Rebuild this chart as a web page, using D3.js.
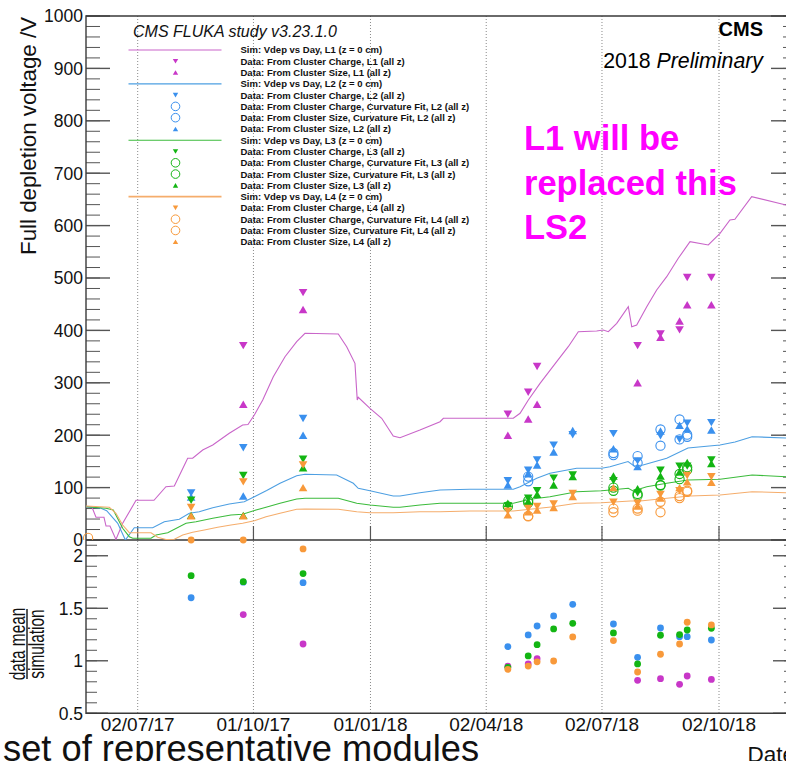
<!DOCTYPE html>
<html>
<head>
<meta charset="utf-8">
<script src="https://cdn.jsdelivr.net/npm/d3@7"></script>
<style>
  html, body { margin: 0; padding: 0; background: #fff; }
  svg { display: block; }
  text { font-family: "Liberation Sans", Arial, Helvetica, sans-serif; }
</style>
</head>
<body>
<svg id="chart" width="786" height="761"></svg>
<script>
// ---------------------------------------------------------------------------
// Simulated full depletion voltage: [days since 2017-07-02, volts]
// ---------------------------------------------------------------------------
const simStart = "2017-07-02";

const simL1 = [[-40.6,63],[-35.9,62.4],[-32.8,43.3],[-26.5,43.3],[-24.9,26.7],[-21.8,26.7],[-17.1,1],[-11.8,31.9],
  [-1.3,75.8],[12.8,75.8],[22.2,101.7],[28.8,103],[39.3,156],[43.2,156],[51.1,171.8],[59,181.3],[72,203.6],
  [82.5,219.5],[86.7,220.4],[91.7,238.5],[98.3,267],[106.6,311.6],[115.8,349.8],[125,378.4],[131.5,394.5],
  [157.7,393.1],[164.3,368.9],[170.8,337.2],[172.6,267.2],[173.4,272.3],[182.6,251.3],[191.8,232.3],
  [200.9,198.5],[206.2,195.2],[221.9,209.9],[237.7,225.8],[240.3,232.3],[295.3,232.3],[300.6,241.8],
  [307.1,267.2],[316.3,299],[329.4,340.3],[338.5,368.9],[346.4,397.5],[360.8,398.9],[366,400.8],[370,397.5],
  [376.6,413.5],[385.7,445.2],[388.4,407],[392.3,410.3],[400.2,445.2],[408,477.1],[415.9,502.5],[425,537.6],
  [434.2,569.3],[448.6,563],[457.8,585.3],[465.6,610.7],[469.5,612],[482.7,655.2],[509.7,639.3],[516.7,635.6]];

const simL2 = [[-40.6,63.5],[-28.9,60.5],[-24.4,55.9],[-15.7,31.9],[-9.7,0],[-2.7,23.5],[11.8,23.5],[20.9,34.9],
  [32.7,39.5],[40.6,51],[48.4,54],[59,61.6],[72,68.7],[83.8,73.1],[91.7,82.6],[101.4,94.5],[111.9,108.2],
  [125,122.7],[131.5,125.4],[156.4,124],[169.5,108.2],[173.4,98.7],[182.6,94.1],[200.9,84],[206.2,84],
  [221.9,90.3],[237.7,95.4],[261.2,96.8],[295.3,96.8],[300.6,101.7],[313.7,117.7],[324.1,127.3],[345.1,136.8],
  [364.8,136.8],[371.3,139.9],[385.5,149.8],[390.2,141.2],[397.3,143.1],[415.9,155.9],[432.6,175.6],
  [457.8,181.3],[469.6,187],[483,197.1],[509.7,194.7],[516.7,194.7]];

const simL3 = [[-40.6,63.5],[-24.9,60.5],[-19.2,57.3],[-11.8,22.3],[-6.6,6.3],[-3.9,3.2],[10.5,3.2],[14.4,9.5],
  [23.6,13.9],[38,31.9],[45.8,34.9],[59,41.4],[73.3,47.7],[82.5,49],[93,57.3],[100.9,62.4],[111.9,70],
  [125,78.2],[131.5,79.6],[157.7,79.6],[172.2,70],[182.6,66.8],[200.9,62.4],[206.2,62.4],[221.9,66.8],
  [237.7,70],[261.2,70],[295.3,70],[308.4,77.7],[324.1,82.6],[345.1,92.2],[364.8,94.1],[371.3,95.4],
  [385.7,98.7],[389.4,93.5],[400.2,101.7],[415.9,108.2],[432.6,114.5],[457.8,115.8],[483,124],
  [509.7,120.8],[516.7,120.2]];

const simL4 = [[-40.6,64.9],[-22.3,62.4],[-17.1,51],[-11.8,28.6],[-6.6,13.9],[10.5,13.9],[15.7,5.2],[22.2,1],
  [28.8,1.3],[35.4,9.5],[43.2,14.7],[52.4,19.1],[62.9,24.2],[73.3,28.6],[82.5,31.9],[91.7,36.8],[100.9,44.5],
  [111.9,51],[125,58.6],[131.5,59.2],[157.7,58.6],[172.2,54],[182.6,52.1],[200.9,52.1],[221.9,54],[237.7,54],
  [261.2,55.3],[295.3,55.3],[308.4,58.6],[326.7,63.5],[345.1,70],[364.8,71.2],[387.3,74.4],[395.1,74.4],
  [415.9,79.6],[434.2,84],[457.8,85.9],[483,92.2],[509.7,90.3],[516.7,89.7]];

// ---------------------------------------------------------------------------
// Measured full depletion voltage (V), one entry per measurement date
// ---------------------------------------------------------------------------
const measDates = ["2017-05-24","2017-08-13","2017-09-23","2017-11-09","2018-04-19","2018-05-05","2018-05-12",
  "2018-05-25","2018-06-09","2018-07-11","2018-07-30","2018-08-17","2018-09-01","2018-09-07","2018-09-26"];

const l1Charge     = [null,null,371,472,240,282,331,null,null,null,371,393,401,501,501];
const l1Size       = [null,null,259,440,200,231,259,null,null,null,300,387,418,449,449];

const l2Charge     = [null,90,176,232,113,133,153,181,201,203,151,199,192,223,224];
const l2ChargeCurv = [null,null,null,null,null,121,null,null,null,166,160,211,230,201,null];
const l2SizeCurv   = [null,null,null,null,null,112,null,null,null,162,147,180,192,197,null];
const l2Size       = [null,82,84,200,105,127,143,168,209,174,140,208,219,212,210];

const l3Charge     = [null,76,123,154,65,80,94,118,124,113,90,133,141,141,153];
const l3ChargeCurv = [null,null,null,null,64,75,null,null,null,100,88,105,126,139,null];
const l3SizeCurv   = [null,null,null,null,null,71,null,null,null,94,85,104,116,134,null];
const l3Size       = [null,47,47,138,70,74,87,105,121,122,98,122,130,148,146];

const l4Charge     = [null,62,111,143,55,60,64,69,89,72,70,87,94,123,121];
const l4ChargeCurv = [4,null,null,null,null,46,null,null,null,60,60,73,84,94,null];
const l4SizeCurv   = [null,null,null,null,null,45,null,null,null,53,56,53,80,92,null];
const l4Size       = [null,46,46,100,48,54,57,62,83,100,65,80,100,111,110];

// data mean / simulation
const ratioL1 = [null,null,1.44,1.16,0.948,0.97,1.02,null,null,null,0.814,0.83,0.776,0.855,0.823];
const ratioL2 = [null,1.60,1.748,1.744,1.135,1.246,1.331,1.427,1.538,1.35,1.033,1.312,1.23,1.23,1.198];
const ratioL3 = [null,1.81,1.753,1.83,0.938,1.046,1.153,1.303,1.357,1.265,0.97,1.243,1.25,1.293,1.31];
const ratioL4 = [null,2.79,2.39,2.065,0.919,0.95,0.99,0.998,1.227,1.192,0.893,1.062,1.16,1.367,1.341];

// axis ticks
const xTickDates = ["2017-07-02","2017-10-01","2018-01-01","2018-04-02","2018-07-02","2018-10-02"];
const yTicks = d3.range(0, 1001, 100);
const yMinor = d3.range(0, 1001, 20);
const rTicks = [0.5, 1, 1.5, 2];
const rMinor = d3.range(0.5, 2.151, 0.1);

// ---------------------------------------------------------------------------
const layers = [
  { name: "L1", color: "#c837c8", line: "#c965c9",
    charge: l1Charge, chargeCurv: null, sizeCurv: null, size: l1Size, sim: simL1, ratio: ratioL1 },
  { name: "L2", color: "#3a90ee", line: "#4d9fe2",
    charge: l2Charge, chargeCurv: l2ChargeCurv, sizeCurv: l2SizeCurv, size: l2Size, sim: simL2, ratio: ratioL2 },
  { name: "L3", color: "#13b513", line: "#3cbb3c",
    charge: l3Charge, chargeCurv: l3ChargeCurv, sizeCurv: l3SizeCurv, size: l3Size, sim: simL3, ratio: ratioL3 },
  { name: "L4", color: "#f8993a", line: "#f5ad6c",
    charge: l4Charge, chargeCurv: l4ChargeCurv, sizeCurv: l4SizeCurv, size: l4Size, sim: simL4, ratio: ratioL4 }
];

const parse = d3.utcParse("%Y-%m-%d");
const fmt = d3.utcFormat("%d/%m/%y");
const DAY = 864e5;
const t0 = parse(simStart).getTime();
const dayToDate = d => new Date(t0 + d * DAY);

// frame geometry
const L = 86, R = 795, T = 16, MID = 540, B = 713.3;

const x = d3.scaleUtc()
  .domain([parse("2017-07-02"), parse("2018-10-02")])
  .range([137.7, 719]);
const y = d3.scaleLinear().domain([0, 1000]).range([MID, T]);
const yr = d3.scaleLinear().domain([0.5, 2.15]).range([B, MID]).clamp(true);

const svg = d3.select("#chart");
const AXIS = "#3a3a3a";

const defs = svg.append("defs");
defs.append("clipPath").attr("id", "topPane")
  .append("rect").attr("x", L).attr("y", T).attr("width", R - L).attr("height", MID - T);
defs.append("clipPath").attr("id", "topPaneTall")
  .append("rect").attr("x", 0).attr("y", T).attr("width", R).attr("height", MID - T);

// vertical dotted grid
svg.append("g").selectAll("line").data(xTickDates).join("line")
  .attr("x1", d => x(parse(d))).attr("x2", d => x(parse(d)))
  .attr("y1", T).attr("y2", B)
  .attr("stroke", "#8a8a8a").attr("stroke-width", 1).attr("stroke-dasharray", "1,2");

// x tick marks on the lower edge of the upper pane
svg.append("g").selectAll("line").data(xTickDates).join("line")
  .attr("x1", d => x(parse(d))).attr("x2", d => x(parse(d)))
  .attr("y1", MID).attr("y2", MID - 14)
  .attr("stroke", "#555").attr("stroke-width", 1.2);

// y ticks (left and right), upper pane
const gy = svg.append("g").attr("stroke", "#555");
gy.selectAll(".mn").data(yMinor).join("line")
  .attr("x1", L).attr("x2", L + 14).attr("y1", d => y(d)).attr("y2", d => y(d)).attr("stroke-width", 1);
gy.selectAll(".mj").data(yTicks).join("line")
  .attr("x1", L).attr("x2", L + 24).attr("y1", d => y(d)).attr("y2", d => y(d)).attr("stroke-width", 1.4);
gy.selectAll(".rmn").data(yMinor).join("line")
  .attr("x1", R).attr("x2", R - 12).attr("y1", d => y(d)).attr("y2", d => y(d)).attr("stroke-width", 1);
gy.selectAll(".rmj").data(yTicks).join("line")
  .attr("x1", R).attr("x2", R - 24).attr("y1", d => y(d)).attr("y2", d => y(d)).attr("stroke-width", 1.4);

// y ticks, ratio pane
const gr = svg.append("g").attr("stroke", "#555");
gr.selectAll(".mn").data(rMinor).join("line")
  .attr("x1", L).attr("x2", L + 11).attr("y1", d => yr(d)).attr("y2", d => yr(d)).attr("stroke-width", 1);
gr.selectAll(".mj").data(rTicks).join("line")
  .attr("x1", L).attr("x2", L + 22).attr("y1", d => yr(d)).attr("y2", d => yr(d)).attr("stroke-width", 1.4);
gr.selectAll(".rmn").data(rMinor).join("line")
  .attr("x1", R).attr("x2", R - 11).attr("y1", d => yr(d)).attr("y2", d => yr(d)).attr("stroke-width", 1);
gr.selectAll(".rmj").data(rTicks).join("line")
  .attr("x1", R).attr("x2", R - 22).attr("y1", d => yr(d)).attr("y2", d => yr(d)).attr("stroke-width", 1.4);

// frames
svg.append("path")
  .attr("d", `M${L},${MID}V${T}H${R}M${L},${MID}H${R}M${L},${MID}V${B}H${R}`)
  .attr("fill", "none").attr("stroke", AXIS).attr("stroke-width", 1.4);

// tick labels
svg.append("g").selectAll("text").data(yTicks).join("text")
  .attr("x", 83).attr("y", d => y(d)).attr("dy", "0.36em")
  .attr("text-anchor", "end").attr("font-size", 17.5).attr("fill", "#111")
  .text(d => d);
svg.append("g").selectAll("text").data(rTicks).join("text")
  .attr("x", 83).attr("y", d => yr(d)).attr("dy", "0.36em")
  .attr("text-anchor", "end").attr("font-size", 17.5).attr("fill", "#111")
  .text(d => d);
svg.append("g").selectAll("text").data(xTickDates).join("text")
  .attr("x", d => x(parse(d))).attr("y", 731)
  .attr("text-anchor", "middle").attr("font-size", 19).attr("fill", "#111")
  .text(d => fmt(parse(d)));

// axis titles
svg.append("text")
  .attr("transform", "translate(35.5,17) rotate(-90)")
  .attr("text-anchor", "end").attr("font-size", 22.3).attr("fill", "#111")
  .text("Full depletion voltage /V");

const frac = svg.append("g").attr("transform", "translate(0,644) rotate(-90)");
frac.append("text").attr("transform", "translate(0,25) scale(0.7,1)")
  .attr("text-anchor", "middle").attr("font-size", 22).attr("fill", "#111").text("data mean");
frac.append("line").attr("x1", -35).attr("x2", 35).attr("y1", 27).attr("y2", 27)
  .attr("stroke", "#111").attr("stroke-width", 1.4);
frac.append("text").attr("transform", "translate(0,44) scale(0.7,1)")
  .attr("text-anchor", "middle").attr("font-size", 22).attr("fill", "#111").text("simulation");

svg.append("text").attr("x", R).attr("y", 762).attr("text-anchor", "end")
  .attr("font-size", 22.5).attr("fill", "#111").text("Date");

// simulation curves
const line = d3.line().x(d => x(dayToDate(d[0]))).y(d => y(d[1]));
svg.append("g").attr("clip-path", "url(#topPane)")
  .selectAll("path").data(layers).join("path")
  .attr("d", d => line(d.sim))
  .attr("fill", "none").attr("stroke", d => d.line).attr("stroke-width", 1.1);

// marker shapes
function tri(w, h, down) {
  return down
    ? `M${-w / 2},${-h / 2}L${w / 2},${-h / 2}L0,${h / 2}Z`
    : `M${-w / 2},${h / 2}L${w / 2},${h / 2}L0,${-h / 2}Z`;
}
function drawPoints(g, layer, key, kind) {
  const vals = layer[key];
  if (!vals) return;
  const pts = measDates.map((d, i) => ({ date: parse(d), v: vals[i] })).filter(p => p.v != null);
  const sel = g.selectAll(null).data(pts);
  if (kind === "circle") {
    sel.join("circle")
      .attr("cx", p => x(p.date)).attr("cy", p => y(p.v)).attr("r", 4.6)
      .attr("fill", "none").attr("stroke", layer.color).attr("stroke-width", 1.1);
  } else {
    sel.join("path")
      .attr("transform", p => `translate(${x(p.date)},${y(p.v)})`)
      .attr("d", tri(8.6, 7.4, kind === "down"))
      .attr("fill", layer.color);
  }
}
const gp = svg.append("g").attr("clip-path", "url(#topPaneTall)");
layers.forEach(layer => {
  const g = gp.append("g");
  drawPoints(g, layer, "chargeCurv", "circle");
  drawPoints(g, layer, "sizeCurv", "circle");
  drawPoints(g, layer, "charge", "down");
  drawPoints(g, layer, "size", "up");
});

// ratio points
layers.forEach(layer => {
  const pts = measDates.map((d, i) => ({ date: parse(d), v: layer.ratio[i] })).filter(p => p.v != null);
  svg.append("g").selectAll("circle").data(pts).join("circle")
    .attr("cx", p => x(p.date)).attr("cy", p => yr(p.v)).attr("r", 3.4)
    .attr("fill", layer.color);
});

// legend
const legendRows = [];
layers.forEach(layer => {
  legendRows.push({ layer, kind: "line", label: `Sim: Vdep vs Day, ${layer.name} (z = 0 cm)` });
  legendRows.push({ layer, kind: "down", label: `Data: From Cluster Charge, ${layer.name} (all z)` });
  if (layer.chargeCurv) {
    legendRows.push({ layer, kind: "circle", label: `Data: From Cluster Charge, Curvature Fit, ${layer.name} (all z)` });
    legendRows.push({ layer, kind: "circle", label: `Data: From Cluster Size, Curvature Fit, ${layer.name} (all z)` });
  }
  legendRows.push({ layer, kind: "up", label: `Data: From Cluster Size, ${layer.name} (all z)` });
});
const rowY = i => 50 + i * 11.28;
const lg = svg.append("g");
legendRows.forEach((r, i) => {
  const cy = rowY(i);
  if (r.kind === "line") {
    lg.append("line").attr("x1", 128.5).attr("x2", 221.5).attr("y1", cy).attr("y2", cy)
      .attr("stroke", r.layer.line).attr("stroke-width", r.layer.name === "L4" ? 1.6 : 1.1);
  } else if (r.kind === "circle") {
    lg.append("circle").attr("cx", 175.5).attr("cy", cy).attr("r", 4.3)
      .attr("fill", "none").attr("stroke", r.layer.color).attr("stroke-width", 1);
  } else {
    lg.append("path").attr("transform", `translate(175.5,${cy})`)
      .attr("d", tri(5.4, 4.6, r.kind === "down")).attr("fill", r.layer.color);
  }
  lg.append("text").attr("x", 240.5).attr("y", cy).attr("dy", "0.36em")
    .attr("font-size", 9.5).attr("font-weight", "bold").attr("fill", "#111")
    .text(r.label);
});

// headings
svg.append("text").attr("x", 133).attr("y", 37).attr("font-size", 16)
  .attr("font-style", "italic").attr("fill", "#111").text("CMS FLUKA study v3.23.1.0");
svg.append("text").attr("x", 763).attr("y", 36).attr("text-anchor", "end")
  .attr("font-size", 20).attr("font-weight", "bold").attr("fill", "#000").text("CMS");
const pre = svg.append("text").attr("x", 763).attr("y", 68).attr("text-anchor", "end")
  .attr("font-size", 21.3).attr("fill", "#000");
pre.append("tspan").text("2018 ");
pre.append("tspan").attr("font-style", "italic").text("Preliminary");

// annotation
const note = ["L1 will be", "replaced this", "LS2"];
svg.append("g").selectAll("text").data(note).join("text")
  .attr("x", 524).attr("y", (d, i) => 150 + i * 44.7)
  .attr("font-family", "Lato, 'Open Sans', sans-serif").attr("font-weight", 700)
  .attr("font-size", 34.5).attr("fill", "#ff00ff")
  .text(d => d);

svg.append("text").attr("x", 3).attr("y", 761)
  .attr("font-family", "Roboto, 'Noto Sans', sans-serif").attr("font-size", 36.3).attr("fill", "#111")
  .text("set of representative modules");
</script>
</body>
</html>
